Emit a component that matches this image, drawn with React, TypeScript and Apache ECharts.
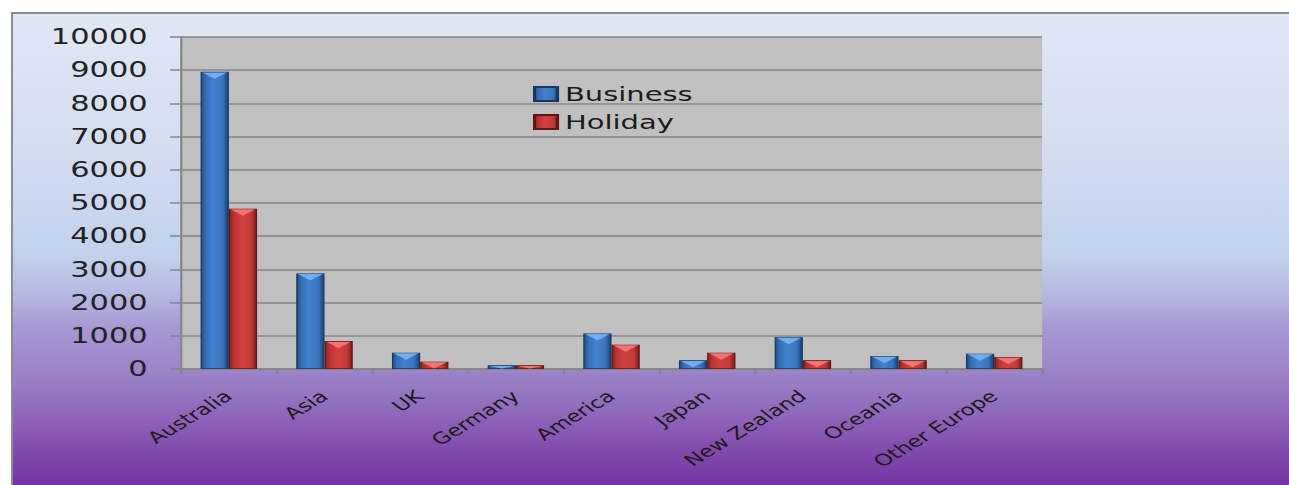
import React, { useEffect, useRef } from "react";
import * as echarts from "echarts";

const categories = ["Australia", "Asia", "UK", "Germany", "America", "Japan", "New Zealand", "Oceania", "Other Europe"];
const business = [8950, 2880, 490, 110, 1070, 260, 960, 390, 460];
const holiday = [4830, 840, 220, 110, 730, 490, 260, 260, 360];
const seriesNames = ["Business", "Holiday"];
const yMin = 0;
const yMax = 10000;
const yStep = 1000;

const STRETCH = 1.45;
const PAGE_W = 1289;
const PAGE_H = 485;
const CHART_W = PAGE_W / STRETCH;
const GAP = 0.41;

const blueFill = {
  type: "linear", x: 0, y: 0, x2: 1, y2: 0,
  colorStops: [
    { offset: 0, color: "#1f4b86" },
    { offset: 0.15, color: "#346db3" },
    { offset: 0.45, color: "#4381cf" },
    { offset: 0.8, color: "#3a74bd" },
    { offset: 1, color: "#1b3f70" },
  ],
};
const redFill = {
  type: "linear", x: 0, y: 0, x2: 1, y2: 0,
  colorStops: [
    { offset: 0, color: "#8a201e" },
    { offset: 0.15, color: "#b73330" },
    { offset: 0.45, color: "#d2423f" },
    { offset: 0.8, color: "#c23a37" },
    { offset: 1, color: "#7a1c1a" },
  ],
};

export default function App() {
  const ref = useRef<HTMLDivElement>(null);

  useEffect(() => {
    if (!ref.current) return;
    const chart = echarts.init(ref.current, null, { renderer: "svg" });
    const bevelData = [
      ...business.map((v, i) => [i, v, 0]),
      ...holiday.map((v, i) => [i, v, 1]),
    ];
    const option: any = {
      animation: false,
      backgroundColor: "transparent",
      textStyle: { fontFamily: "DejaVu Sans" },
      grid: {
        left: 181 / STRETCH,
        right: CHART_W - 1042 / STRETCH,
        top: 37,
        bottom: PAGE_H - 369,
        show: true,
        backgroundColor: "#c0c0c0",
        borderWidth: 0,
        containLabel: false,
      },
      legend: {
        data: seriesNames,
        orient: "vertical",
        left: 533 / STRETCH,
        top: 84,
        padding: 0,
        itemGap: 8,
        itemWidth: 16,
        itemHeight: 14,
        icon: "rect",
        textStyle: { fontSize: 20, color: "#1a1a1a", fontFamily: "DejaVu Sans" },
      },
      xAxis: {
        type: "category",
        data: categories,
        axisLine: { show: true, lineStyle: { color: "#868686", width: 1.5 } },
        axisTick: { show: true, length: 5, lineStyle: { color: "#868686", width: 1.5 } },
        axisLabel: {
          interval: 0,
          rotate: 41,
          margin: 25,
          fontSize: 16,
          color: "#1a1a1a",
          fontFamily: "DejaVu Sans",
        },
      },
      yAxis: {
        type: "value",
        min: yMin,
        max: yMax,
        interval: yStep,
        axisLine: { show: true, lineStyle: { color: "#868686", width: 1.5 } },
        axisTick: { show: true, length: 11 / STRETCH, lineStyle: { color: "#868686", width: 1.5 } },
        splitLine: { show: true, lineStyle: { color: "#868686", width: 1.5 } },
        axisLabel: {
          margin: 23,
          fontSize: 21,
          color: "#222222",
          fontFamily: "DejaVu Sans",
          formatter: (v: number) => String(v),
        },
      },
      series: [
        {
          name: seriesNames[0],
          type: "bar",
          data: business,
          barGap: "0%",
          barCategoryGap: GAP * 100 + "%",
          itemStyle: { color: blueFill, borderColor: "#17365f", borderWidth: 0.8 },
        },
        {
          name: seriesNames[1],
          type: "bar",
          data: holiday,
          barGap: "0%",
          barCategoryGap: GAP * 100 + "%",
          itemStyle: { color: redFill, borderColor: "#5e1514", borderWidth: 0.8 },
        },
        {
          type: "custom",
          name: "bevel",
          silent: true,
          z: 5,
          data: bevelData,
          encode: { x: 0, y: 1 },
          renderItem: (params: any, api: any) => {
            const idx = api.value(0);
            const val = api.value(1);
            const s = api.value(2);
            const top = api.coord([idx, val]);
            const base = api.coord([idx, 0]);
            const band = api.size([1, 0])[0];
            const w = (band * (1 - GAP)) / 2;
            const x0 = s === 0 ? top[0] - w : top[0];
            const depth = Math.min(7, base[1] - top[1] - 0.5);
            if (depth <= 0.5) return null;
            return {
              type: "polygon",
              shape: {
                points: [
                  [x0 + 1.2, top[1] + 0.6],
                  [x0 + w - 1.2, top[1] + 0.6],
                  [x0 + w / 2, top[1] + depth],
                ],
              },
              style: { fill: s === 0 ? "rgba(130,185,250,0.8)" : "rgba(250,130,130,0.8)" },
            };
          },
        },
      ],
    };
    chart.setOption(option);
    return () => chart.dispose();
  }, []);

  return (
    <div style={{ position: "absolute", left: 0, top: 0, width: PAGE_W, height: PAGE_H, background: "#ffffff", overflow: "hidden" }}>
      <div
        style={{
          position: "absolute",
          left: 11,
          top: 12,
          width: PAGE_W - 11,
          height: PAGE_H - 12,
          boxSizing: "border-box",
          borderTop: "2px solid #8c8c8c",
          borderLeft: "2px solid #8c8c8c",
          background:
            "linear-gradient(to bottom, #e1e7f5 0%, #d2dcf1 30%, #c1d1ec 51.5%, #b6bbe2 58.8%, #a697d3 67%, #9a80c6 77.8%, #8a5ab5 88.4%, #7232a2 100%)",
        }}
      />
      <div
        ref={ref}
        style={{
          position: "absolute",
          left: 0,
          top: 0,
          width: CHART_W,
          height: PAGE_H,
          transform: `scaleX(${STRETCH})`,
          transformOrigin: "0 0",
        }}
      />
    </div>
  );
}
